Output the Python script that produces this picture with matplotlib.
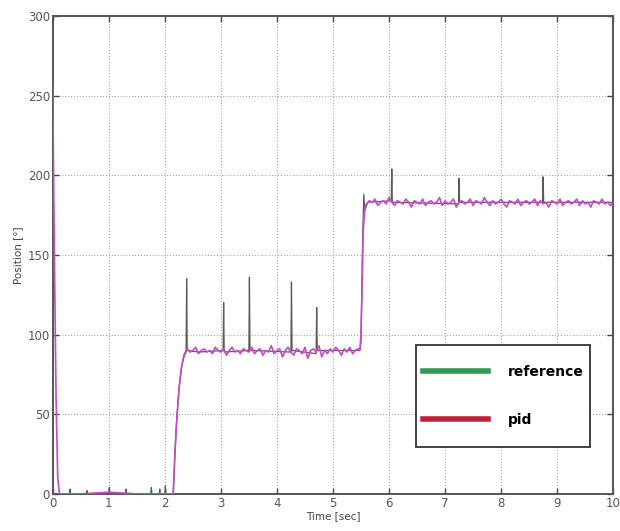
import numpy as np
import matplotlib
matplotlib.use("Agg")
import matplotlib.pyplot as plt
from matplotlib.lines import Line2D
from matplotlib.patches import Rectangle

# ---- data ----
ref_t = [0.00, 0.30, 0.31, 0.32, 0.60, 0.61, 0.62, 1.00, 1.01, 1.02, 1.30, 1.31, 1.32,
         1.75, 1.76, 1.77, 1.90, 1.91, 1.92, 2.00, 2.01, 2.02, 2.15, 2.20, 2.25, 2.30,
         2.35, 2.38, 2.39, 2.40, 2.60, 3.04, 3.05, 3.06, 3.50, 3.51, 3.52, 4.25, 4.26,
         4.27, 4.70, 4.71, 4.72, 5.48, 5.50, 5.53, 5.55, 5.57, 5.62, 6.04, 6.05, 6.06,
         7.24, 7.25, 7.26, 8.74, 8.75, 8.76, 10.00]
ref_v = [0, 0, 3, 0, 0, 2, 0, 0, 4, 0, 0, 3, 0,
         0, 4, 0, 0, 3, 0, 0, 5, 0, 0, 40, 65, 80,
         87, 89, 135, 90, 89, 90, 120, 89, 90, 136, 90, 89, 133,
         90, 88, 117, 90, 90, 95, 160, 188, 178, 183, 184, 204, 183,
         182, 198, 183, 183, 199, 183, 183]

pid_start_t = [0.00, 0.03, 0.06, 0.09, 0.12, 0.50, 1.00, 1.50, 2.15, 2.18, 2.22, 2.26, 2.30, 2.34, 2.38]
pid_start_v = [258, 150, 60, 10, 0, 0, 1, 0, 0, 25, 50, 68, 80, 87, 90]

pid_low = [91, 89, 90, 92, 88, 90, 91, 89, 90, 88, 92, 90, 89, 91, 87, 90,
           92, 89, 90, 88, 91, 90, 89, 92, 88, 90, 91, 87, 90, 89, 93, 88,
           90, 91, 86, 90, 92, 89, 87, 91, 90, 88, 92, 85, 90, 91, 89, 93,
           86, 90, 88, 91, 89, 92, 90, 87, 91, 89, 92, 88, 90, 91]
pid_mid_t = [5.48, 5.50, 5.52, 5.54, 5.56, 5.58]
pid_mid_v = [90, 100, 130, 165, 175, 181]
pid_high = [182, 184, 183, 185, 181, 183, 184, 182, 186, 183, 181, 184, 183, 182, 185, 183,
            180, 184, 183, 182, 185, 181, 183, 184, 182, 183, 186, 181, 184, 182, 183, 185,
            180, 183, 184, 182, 183, 185, 181, 184, 183, 182, 186, 183, 181, 184, 182, 183,
            185, 182, 180, 184, 183, 182, 185, 181, 183, 184, 182, 183, 185, 181, 184, 182,
            183, 180, 184, 183, 182, 185, 181, 183, 184, 182, 183, 185, 181, 184, 182, 183,
            180, 184, 183, 182, 185, 182, 183, 181, 183]

low_t = np.round(2.40 + 0.05 * np.arange(len(pid_low)), 3)
high_t = np.round(5.60 + 0.05 * np.arange(len(pid_high)), 3)
pid_t = list(pid_start_t) + list(low_t) + pid_mid_t + list(high_t)
pid_v = pid_start_v + pid_low + pid_mid_v + pid_high

x_ticks = [0, 1, 2, 3, 4, 5, 6, 7, 8, 9, 10]
y_ticks = [0, 50, 100, 150, 200, 250, 300]
legend_labels = ["reference", "pid"]

# ---- figure ----
fig = plt.figure(figsize=(6.2, 5.31), dpi=100)
ax = fig.add_axes([0.085, 0.070, 0.904, 0.900])

ax.plot(ref_t, ref_v, color="#5a5a5a", lw=0.9, zorder=3)
ax.plot(pid_t, pid_v, color="#c848c8", lw=1.2, zorder=4)

ax.set_xlim(0, 10)
ax.set_ylim(0, 300)
ax.set_xticks(x_ticks)
ax.set_yticks(y_ticks)
ax.grid(True, linestyle=(0, (1, 2)), color="#999999", lw=0.7)
ax.tick_params(direction="in", length=4, width=1, colors="#444444",
               labelsize=8.5, top=True, right=True, pad=2)
for lab in ax.get_xticklabels() + ax.get_yticklabels():
    lab.set_color("#555555")
for s in ax.spines.values():
    s.set_color("#555555")
    s.set_linewidth(1.4)

ax.set_xlabel("Time [sec]", fontsize=7.5, color="#444444", labelpad=1)
ax.set_ylabel("Position [°]", fontsize=7.5, color="#444444", labelpad=3)

# legend box
box = (0.648, 0.098, 0.311, 0.214)
ax.add_patch(Rectangle((box[0], box[1]), box[2], box[3], transform=ax.transAxes,
                       facecolor="white", edgecolor="#333333", lw=1.3, zorder=8))
handles = [Line2D([0], [0], color="#2e9a52", lw=4),
           Line2D([0], [0], color="#c0203c", lw=4)]
leg = ax.legend(handles, legend_labels, loc="center",
                bbox_to_anchor=box, frameon=False,
                handlelength=4.7, handletextpad=1.4, borderpad=0,
                labelspacing=2.4, borderaxespad=0,
                prop={"weight": "bold", "size": 10})
leg.set_zorder(9)

fig.savefig("out.png", dpi=100)
